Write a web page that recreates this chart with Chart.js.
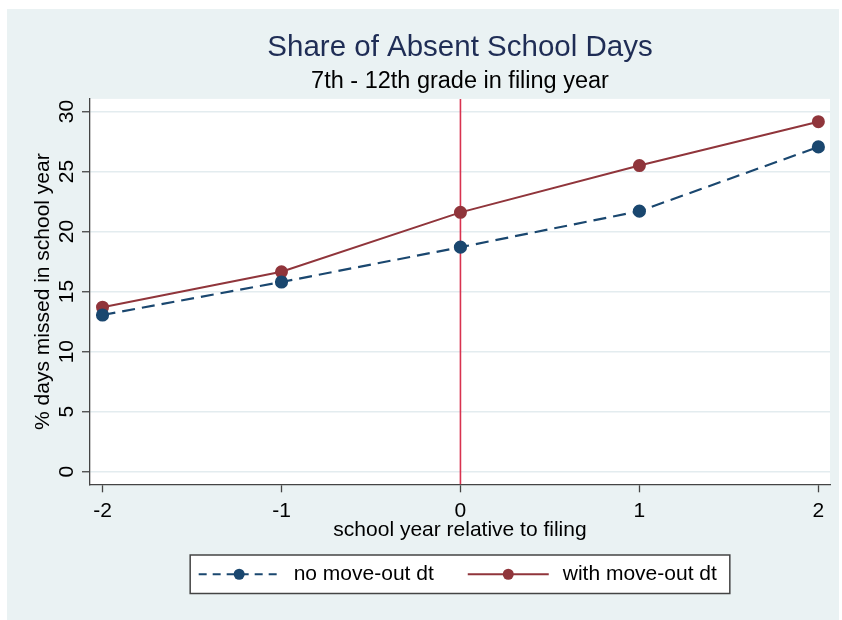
<!DOCTYPE html>
<html>
<head>
<meta charset="utf-8">
<script src="https://cdn.jsdelivr.net/npm/chart.js@4"></script>
<style>
  html, body { margin: 0; padding: 0; background: #fff; }
  canvas { display: block; }
</style>
</head>
<body>
<canvas id="absentChart" width="842" height="620"></canvas>
<script>
// values
const relYears = [-2, -1, 0, 1, 2];
const noMoveOut = [13.05, 15.8, 18.7, 21.7, 27.05];
const withMoveOut = [13.7, 16.65, 21.6, 25.5, 29.15];
const seriesLabels = ["no move-out dt", "with move-out dt"];
const xTickValues = [-2, -1, 0, 1, 2];
const yTickValues = [0, 5, 10, 15, 20, 25, 30];
const filingYear = 0;
const titleText = "Share of Absent School Days";
const subtitleText = "7th - 12th grade in filing year";
const xTitle = "school year relative to filing";
const yTitle = "% days missed in school year";

const FONT = "'Liberation Sans', Arial, sans-serif";
Chart.defaults.font.family = FONT;

// light stata-like background + white plot region
const frame = {
  id: "frame",
  beforeDraw(chart) {
    const { ctx, chartArea: a } = chart;
    ctx.save();
    ctx.fillStyle = "#eaf2f3";
    ctx.fillRect(7, 9, 832, 611);
    ctx.fillStyle = "#fff";
    ctx.fillRect(a.left, a.top, a.right - a.left, a.bottom - a.top);
    ctx.restore();
  }
};

// vertical line at the filing year
const refLine = {
  id: "refLine",
  beforeDatasetsDraw(chart) {
    const { ctx, chartArea: a, scales: { x } } = chart;
    const px = x.getPixelForValue(filingYear);
    ctx.save();
    ctx.strokeStyle = "#d8324f";
    ctx.lineWidth = 1.6;
    ctx.beginPath();
    ctx.moveTo(px, a.top);
    ctx.lineTo(px, a.bottom);
    ctx.stroke();
    ctx.restore();
  }
};

// y tick labels are rotated like in stata
const yLabels = {
  id: "yLabels",
  afterDraw(chart) {
    const { ctx, scales: { y } } = chart;
    ctx.save();
    ctx.font = "21px " + FONT;
    ctx.fillStyle = "#000";
    ctx.textAlign = "center";
    ctx.textBaseline = "alphabetic";
    y.ticks.forEach(t => {
      const py = y.getPixelForValue(t.value);
      ctx.save();
      ctx.translate(y.right - 16.7, py);
      ctx.rotate(-Math.PI / 2);
      ctx.fillText(String(t.value), 0, 0);
      ctx.restore();
    });
    ctx.restore();
  }
};

// boxed legend with line + marker symbols
const boxLegend = {
  id: "boxLegend",
  afterDraw(chart) {
    const { ctx, chartArea: a } = chart;
    const sets = chart.data.datasets;
    ctx.save();
    ctx.font = "21px " + FONT;
    const symW = 81, symGap = 14, itemGap = 34, padL = 8.5, padR = 13;
    const widths = sets.map(d => ctx.measureText(d.label).width);
    const total = padL + padR + sets.length * (symW + symGap) +
      widths.reduce((s, w) => s + w, 0) + itemGap * (sets.length - 1);
    const left = (a.left + a.right) / 2 - total / 2;
    const top = 555, h = 38.5, cy = top + h / 2;
    ctx.fillStyle = "#fff";
    ctx.fillRect(left, top, total, h);
    ctx.strokeStyle = "#444";
    ctx.lineWidth = 1.5;
    ctx.strokeRect(left, top, total, h);
    let x = left + padL;
    sets.forEach((d, i) => {
      ctx.strokeStyle = d.borderColor;
      ctx.lineWidth = d.borderWidth;
      ctx.setLineDash(d.legendDash || []);
      ctx.beginPath();
      ctx.moveTo(x, cy);
      ctx.lineTo(x + symW, cy);
      ctx.stroke();
      ctx.setLineDash([]);
      ctx.fillStyle = d.pointBackgroundColor;
      ctx.beginPath();
      ctx.arc(x + symW / 2, cy, d.pointRadius, 0, Math.PI * 2);
      ctx.fill();
      x += symW + symGap;
      ctx.fillStyle = "#000";
      ctx.textAlign = "left";
      ctx.textBaseline = "middle";
      ctx.fillText(d.label, x, cy);
      x += widths[i] + itemGap;
    });
    ctx.restore();
  }
};

new Chart(document.getElementById("absentChart"), {
  type: "line",
  data: {
    datasets: [
      {
        label: seriesLabels[0],
        data: relYears.map((x, i) => ({ x, y: noMoveOut[i] })),
        borderColor: "#1a476f",
        backgroundColor: "#1a476f",
        pointBackgroundColor: "#1a476f",
        pointBorderColor: "#1a476f",
        borderWidth: 2.2,
        borderDash: [13, 7],
        legendDash: [8, 6],
        pointRadius: 5.5,
        tension: 0,
        fill: false
      },
      {
        label: seriesLabels[1],
        data: relYears.map((x, i) => ({ x, y: withMoveOut[i] })),
        borderColor: "#90353b",
        backgroundColor: "#90353b",
        pointBackgroundColor: "#90353b",
        pointBorderColor: "#90353b",
        borderWidth: 2,
        pointRadius: 5.5,
        tension: 0,
        fill: false
      }
    ]
  },
  options: {
    responsive: false,
    animation: false,
    devicePixelRatio: 1,
    layout: { padding: { left: 0, right: 12, top: 0, bottom: 77.2 } },
    plugins: {
      legend: { display: false },
      tooltip: { enabled: false },
      title: {
        display: true,
        fullSize: false,
        text: titleText,
        color: "#1f2d55",
        font: { size: 29.5, weight: "normal", lineHeight: 1.2 },
        padding: { top: 29.7, bottom: 0 }
      },
      subtitle: {
        display: true,
        fullSize: false,
        text: subtitleText,
        color: "#000",
        font: { size: 23.5, weight: "normal", lineHeight: 1.2 },
        padding: { top: 2.8, bottom: 2.8 }
      }
    },
    scales: {
      x: {
        type: "linear",
        min: -2.07,
        max: 2.065,
        afterBuildTicks: s => { s.ticks = xTickValues.map(v => ({ value: v })); },
        afterFit: s => { s.height = 58.5; },
        grid: { drawOnChartArea: false, drawTicks: true, tickLength: 8, tickColor: "#444", tickWidth: 1.3 },
        border: { color: "#444", width: 1.3 },
        ticks: { color: "#000", font: { size: 21, lineHeight: 1 }, padding: 8, maxRotation: 0, callback: v => String(v) },
        title: { display: true, text: xTitle, color: "#000", font: { size: 21, lineHeight: 1.2 }, padding: 0 }
      },
      y: {
        type: "linear",
        min: -1.05,
        max: 31.05,
        afterBuildTicks: s => { s.ticks = yTickValues.map(v => ({ value: v })); },
        afterFit: s => { s.width = 90; },
        grid: { color: "#e3ecef", lineWidth: 1.5, tickLength: 8, tickColor: "#444", tickWidth: 1.3 },
        border: { color: "#444", width: 1.3 },
        ticks: { display: false },
        title: { display: true, text: yTitle, color: "#000", font: { size: 21, lineHeight: 1.2 }, padding: { top: 30.4, bottom: 0 } }
      }
    }
  },
  plugins: [frame, refLine, yLabels, boxLegend]
});
</script>
</body>
</html>
